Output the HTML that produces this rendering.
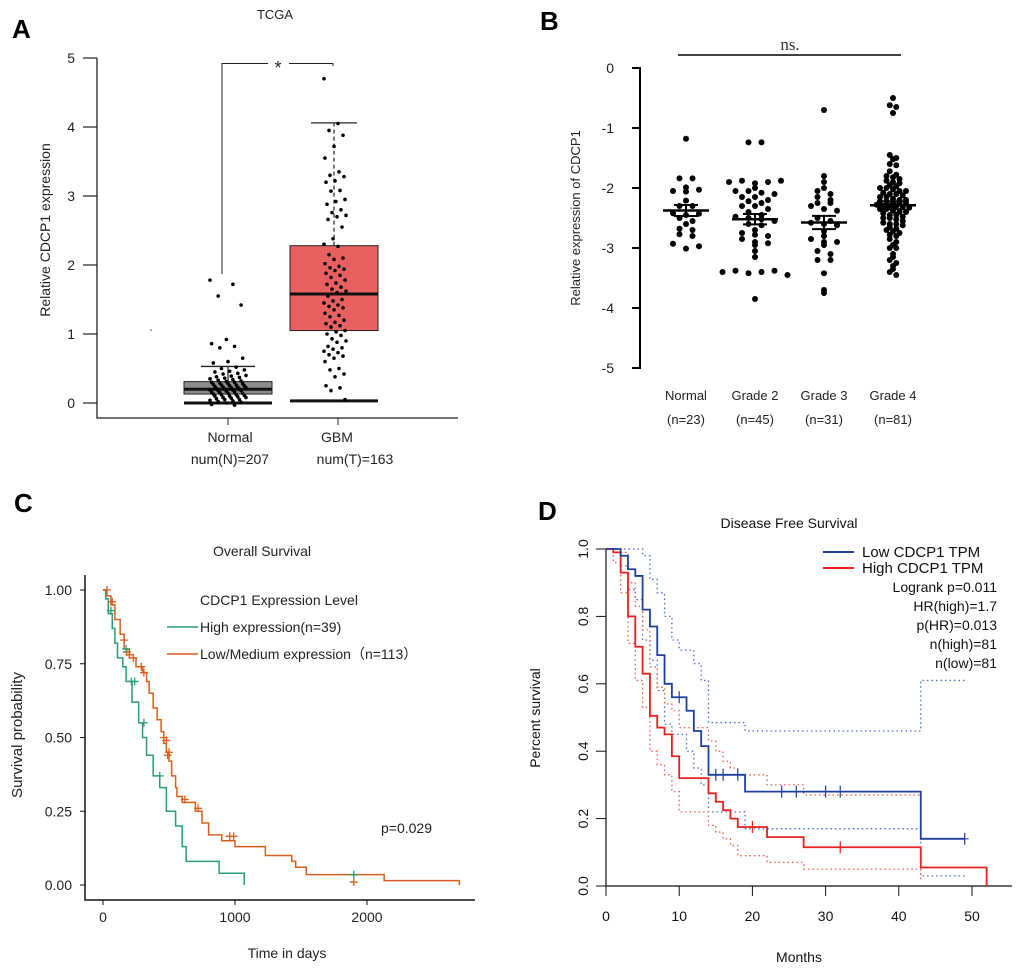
<!DOCTYPE html>
<html><head><meta charset="utf-8"><style>
html,body{margin:0;padding:0;background:#fff;}
svg{display:block;font-family:"Liberation Sans",Arial,sans-serif;}
</style></head><body>
<svg id="fig" width="1020" height="969" viewBox="0 0 1020 969" xmlns="http://www.w3.org/2000/svg">
<g id="pA">
<text x="12" y="38" font-size="26" font-weight="bold">A</text>
<text x="275" y="19" font-size="13" text-anchor="middle" fill="#222">TCGA</text>
<text transform="translate(50,230) rotate(-90)" font-size="14" text-anchor="middle" fill="#222">Relative CDCP1 expression</text>
<text x="230" y="442" font-size="14" text-anchor="middle" fill="#222">Normal</text>
<text x="230" y="464" font-size="14" text-anchor="middle" fill="#222">num(N)=207</text>
<text x="337" y="442" font-size="14" text-anchor="middle" fill="#222">GBM</text>
<text x="355" y="464" font-size="14" text-anchor="middle" fill="#222">num(T)=163</text>
<circle cx="151" cy="330" r="0.8" fill="#444"/>
</g>
<g id="pB">
<text x="540" y="30" font-size="26" font-weight="bold">B</text>
<text transform="translate(580,218) rotate(-90)" font-size="13" text-anchor="middle" fill="#222">Relative expression of CDCP1</text>
<text x="790" y="50" font-size="17" text-anchor="middle" font-family="Liberation Serif,serif" fill="#333">ns.</text>
</g>
<g id="pC">
<text x="14" y="512" font-size="26" font-weight="bold">C</text>
<text x="262" y="556" font-size="14" text-anchor="middle" fill="#222">Overall Survival</text>
<text transform="translate(22,735) rotate(-90)" font-size="15" text-anchor="middle" fill="#222">Survival probability</text>
<text x="287" y="958" font-size="14" text-anchor="middle" fill="#222">Time in days</text>
<text x="200" y="605" font-size="14" fill="#222">CDCP1 Expression Level</text>
<line x1="167" y1="627" x2="198" y2="627" stroke="#2a9d72" stroke-width="1.5"/>
<text x="200" y="632" font-size="14" fill="#222">High expression(n=39)</text>
<line x1="167" y1="654" x2="198" y2="654" stroke="#d95f1c" stroke-width="1.5"/>
<text x="200" y="659" font-size="14" fill="#222" font-family="Liberation Sans,'Noto Sans CJK SC',sans-serif">Low/Medium expression（n=113）</text>
<text x="381" y="833" font-size="14" fill="#222">p=0.029</text>
</g>
<g id="pD">
<text x="538" y="520" font-size="26" font-weight="bold">D</text>
<text x="789" y="528" font-size="14" text-anchor="middle" fill="#111">Disease Free Survival</text>
<text transform="translate(540,718) rotate(-90)" font-size="14" text-anchor="middle" fill="#111">Percent survival</text>
<text x="799" y="962" font-size="14" text-anchor="middle" fill="#111">Months</text>
<line x1="823" y1="552" x2="854" y2="552" stroke="#1f3f9f" stroke-width="2"/>
<text x="862" y="557" font-size="15" fill="#111">Low CDCP1 TPM</text>
<line x1="823" y1="568" x2="854" y2="568" stroke="#e8201e" stroke-width="2"/>
<text x="862" y="573" font-size="15" fill="#111">High CDCP1 TPM</text>
<text x="997" y="592" font-size="14" text-anchor="end" fill="#111">Logrank p=0.011</text>
<text x="997" y="611" font-size="14" text-anchor="end" fill="#111">HR(high)=1.7</text>
<text x="997" y="630" font-size="14" text-anchor="end" fill="#111">p(HR)=0.013</text>
<text x="997" y="649" font-size="14" text-anchor="end" fill="#111">n(high)=81</text>
<text x="997" y="668" font-size="14" text-anchor="end" fill="#111">n(low)=81</text>
</g>
</svg>
<script>
// ---------- Panel A data ----------
const aTicks=[0,1,2,3,4,5];
const aNormalBox=[0.0,0.13,0.2,0.31,0.53];
const aGbmBox=[0.03,1.05,1.58,2.28,4.06];
const aNormalPts=[1.78,1.72,1.55,1.42,0.92,0.86,0.82,0.8,0.65,0.6,0.58,0.52,0.5,0.48,0.46,0.45,0.43,0.42,0.4,0.39,0.38,0.37,0.36,0.35,0.34,0.33,0.32,0.31,0.3,0.3,0.29,0.28,0.28,0.27,0.26,0.26,0.25,0.25,0.24,0.23,0.23,0.22,0.22,0.21,0.2,0.2,0.19,0.19,0.18,0.18,0.17,0.16,0.16,0.15,0.14,0.14,0.13,0.12,0.12,0.11,0.1,0.1,0.09,0.08,0.08,0.07,0.06,0.05,0.05,0.04,0.03,0.02,0.01,0.0,-0.02,-0.03];
const aGbmPts=[4.7,4.05,3.95,3.88,3.72,3.55,3.35,3.3,3.28,3.22,3.2,3.08,3.07,2.95,2.92,2.88,2.8,2.76,2.72,2.7,2.66,2.55,2.38,2.3,2.27,2.15,2.1,2.08,2.02,1.98,1.96,1.94,1.92,1.88,1.85,1.82,1.78,1.74,1.72,1.68,1.65,1.62,1.6,1.55,1.5,1.48,1.45,1.42,1.4,1.38,1.35,1.3,1.27,1.25,1.2,1.17,1.15,1.12,1.1,1.05,1.03,1.0,0.98,0.93,0.9,0.88,0.82,0.8,0.78,0.75,0.73,0.7,0.68,0.65,0.6,0.5,0.48,0.42,0.38,0.25,0.22,0.18,0.05];
const aBracket=[1.87,4.92,4.88];
// ---------- Panel B data ----------
const bCats=["Normal","Grade 2","Grade 3","Grade 4"];
const bNs=["(n=23)","(n=45)","(n=31)","(n=81)"];
const bTicks=[0,-1,-2,-3,-4,-5];
const bNormal=[-1.18,-1.84,-1.84,-1.99,-2.05,-2.06,-2.03,-2.21,-2.3,-2.3,-2.42,-2.45,-2.43,-2.5,-2.55,-2.6,-2.68,-2.7,-2.77,-2.8,-2.93,-3.01,-2.97];
const bGrade2=[-1.24,-1.24,-1.9,-1.88,-1.92,-1.9,-1.88,-2.0,-2.05,-2.05,-2.08,-2.1,-2.15,-2.15,-2.2,-2.22,-2.25,-2.3,-2.3,-2.35,-2.4,-2.45,-2.48,-2.5,-2.52,-2.55,-2.6,-2.62,-2.7,-2.75,-2.78,-2.8,-2.85,-2.9,-2.92,-2.95,-3.05,-3.15,-3.4,-3.38,-3.42,-3.4,-3.38,-3.45,-3.85];
const bGrade3=[-0.7,-1.8,-1.9,-2.0,-2.05,-2.1,-2.15,-2.2,-2.25,-2.25,-2.3,-2.35,-2.38,-2.5,-2.55,-2.58,-2.6,-2.62,-2.72,-2.8,-2.85,-2.9,-2.9,-2.95,-3.05,-3.1,-3.2,-3.2,-3.42,-3.7,-3.75];
const bGrade4=[-0.5,-0.62,-0.65,-0.75,-1.45,-1.5,-1.52,-1.6,-1.62,-1.72,-1.78,-1.8,-1.82,-1.85,-1.88,-1.9,-1.92,-1.95,-1.97,-2.0,-2.0,-2.02,-2.05,-2.05,-2.08,-2.1,-2.1,-2.12,-2.15,-2.15,-2.18,-2.2,-2.2,-2.22,-2.22,-2.25,-2.25,-2.25,-2.28,-2.3,-2.3,-2.3,-2.32,-2.33,-2.35,-2.35,-2.38,-2.4,-2.4,-2.42,-2.45,-2.45,-2.48,-2.5,-2.5,-2.52,-2.55,-2.58,-2.6,-2.6,-2.62,-2.65,-2.68,-2.7,-2.72,-2.75,-2.78,-2.8,-2.85,-2.9,-2.95,-3.0,-3.0,-3.1,-3.15,-3.2,-3.25,-3.3,-3.35,-3.4,-3.45];
// ---------- Panel C data ----------
const cTicksY=[0,0.25,0.5,0.75,1.0];
const cTicksX=[0,1000,2000];
const cHighT=[0,20,40,70,90,110,150,175,220,270,300,330,380,430,480,550,600,630,880,1070];
const cHighS=[1,0.97,0.92,0.87,0.82,0.77,0.74,0.69,0.62,0.55,0.5,0.44,0.37,0.33,0.25,0.2,0.13,0.08,0.04,0.0];
const cHighCens=[[60,0.93],[175,0.8],[215,0.69],[240,0.69],[310,0.55],[430,0.37],[1900,0.035]];
const cLowT=[0,30,60,90,130,160,200,250,300,330,350,380,410,440,460,480,500,520,550,560,600,700,750,800,900,1000,1230,1430,1460,1540,2130,2700];
const cLowS=[1,0.98,0.95,0.9,0.85,0.8,0.77,0.74,0.72,0.69,0.65,0.6,0.56,0.52,0.48,0.45,0.42,0.37,0.33,0.3,0.28,0.25,0.21,0.17,0.15,0.13,0.1,0.08,0.06,0.035,0.015,0.0];
const cLowCens=[[30,1.0],[70,0.96],[160,0.83],[180,0.79],[200,0.78],[230,0.77],[290,0.74],[310,0.72],[460,0.5],[480,0.49],[490,0.44],[500,0.45],[620,0.29],[720,0.26],[960,0.165],[990,0.165],[1900,0.01]];
// ---------- Panel D data ----------
const dTicksY=[0,0.2,0.4,0.6,0.8,1.0];
const dTicksX=[0,10,20,30,40,50];
const dLowT=[0,2,3,4,5,6,7,8,9,11,12,13,14,19,43,49];
const dLowS=[1,0.98,0.94,0.92,0.82,0.77,0.685,0.6,0.56,0.52,0.46,0.415,0.33,0.28,0.14,0.14];
const dLowCens=[10,15,16,18,24,26,30,32,49];
const dHighT=[0,1,2,3,4,5,6,7,8,9,10,14,15,16,17,18,22,27,43,52,52];
const dHighS=[1,0.99,0.93,0.8,0.71,0.63,0.505,0.47,0.45,0.385,0.32,0.275,0.25,0.225,0.2,0.175,0.145,0.115,0.055,0.055,0.0];
const dHighCens=[20,32];
const dLowUpT=[0,2,5,6,7,8,9,10,12,13,14,19,43,49];
const dLowUpS=[1,1,0.98,0.91,0.87,0.8,0.73,0.7,0.66,0.61,0.485,0.46,0.61,0.61];
const dLowLoT=[0,2,3,4,5,6,7,8,9,11,12,13,14,19,43,49];
const dLowLoS=[1,0.95,0.88,0.85,0.73,0.67,0.58,0.48,0.45,0.4,0.35,0.3,0.22,0.17,0.03,0.03];
const dHighUpT=[0,2,3,4,5,6,7,8,9,10,14,15,16,17,18,22,27,43];
const dHighUpS=[1,0.99,0.9,0.83,0.76,0.65,0.59,0.54,0.52,0.47,0.43,0.4,0.37,0.35,0.33,0.3,0.27,0.27];
const dHighLoT=[0,1,2,3,4,5,6,7,8,9,10,14,15,16,17,18,22,27,43];
const dHighLoS=[1,0.96,0.87,0.72,0.61,0.53,0.4,0.36,0.33,0.28,0.22,0.18,0.16,0.14,0.12,0.09,0.07,0.05,0.02];

const NS='http://www.w3.org/2000/svg';
function mk(parent,tag,attrs){const e=document.createElementNS(NS,tag);for(const k in attrs)e.setAttribute(k,attrs[k]);parent.appendChild(e);return e;}
function txt(parent,x,y,s,size,anchor,extra){const e=mk(parent,'text',Object.assign({x:x,y:y,'font-size':size,'text-anchor':anchor,fill:'#222'},extra||{}));e.textContent=s;return e;}
function stepPath(T,S,xs,ys){let d='M'+xs(T[0])+','+ys(S[0]);for(let i=1;i<T.length;i++){d+=' H'+xs(T[i])+' V'+ys(S[i]);}return d;}

// ---------- Panel A ----------
(function(){
const g=document.getElementById('pA');
const y=v=>403-v*69;
let e=mk(g,'path',{d:'M97,58 V418 H458',fill:'none',stroke:'#222','stroke-width':1.3});

aTicks.forEach(t=>{
 e=mk(g,'line',{x1:83,x2:97,y1:y(t),y2:y(t),stroke:'#222','stroke-width':1.2});
 
 e=txt(g,75,y(t)+5,String(t),14,'end');
 
});
[228,338].forEach(x=>{e=mk(g,'line',{x1:x,x2:x,y1:418,y2:425,stroke:'#222'});});
function box(b,cx,hw,capw,fill,name,dashed){
 e=mk(g,'line',{x1:cx,x2:cx,y1:y(b[3]),y2:y(b[4]),stroke:'#222','stroke-width':1.2,'stroke-dasharray':dashed?'4,3':'none'});
 
 e=mk(g,'line',{x1:cx-capw,x2:cx+capw,y1:y(b[4]),y2:y(b[4]),stroke:'#222','stroke-width':1.3});
 
 e=mk(g,'rect',{x:cx-hw,y:y(b[3]),width:hw*2,height:y(b[1])-y(b[3]),fill:fill,stroke:'#222','stroke-width':1});
 
 e=mk(g,'line',{x1:cx-hw,x2:cx+hw,y1:y(b[2]),y2:y(b[2]),stroke:'#111','stroke-width':3});
 
 e=mk(g,'line',{x1:cx-hw,x2:cx+hw,y1:y(b[0]),y2:y(b[0]),stroke:'#111','stroke-width':3});
 
}
box(aNormalBox,228,44,27,'#8c8c8c','normal',false);
box(aGbmBox,334,44,23,'#e8605f','gbm',true);
function pts(arr,cx,spread,name){arr.forEach((v,i)=>{const off=((i*37)%23-11)/11*spread;
 e=mk(g,'circle',{cx:cx+off,cy:y(v),r:1.8,fill:'#000'});
 });}
pts(aNormalPts,228,18,'normal');pts(aGbmPts,335,11,'gbm');
e=mk(g,'path',{d:'M222,'+y(aBracket[0])+' V'+y(aBracket[1])+' H268 M289,'+y(aBracket[1])+' H333 V'+y(aBracket[2]),fill:'none',stroke:'#222','stroke-width':1});

e=txt(g,278,74,'*',18,'middle');

})();

// ---------- Panel B ----------
(function(){
const g=document.getElementById('pB');
const y=v=>68-v*60;
const cx=[686,755,824,893];
let e=mk(g,'line',{x1:640,x2:640,y1:y(0)-1,y2:y(-5)+1,stroke:'#000','stroke-width':2});

bTicks.forEach(t=>{
 e=mk(g,'line',{x1:632,x2:640,y1:y(t),y2:y(t),stroke:'#000','stroke-width':2});
 
 e=txt(g,614,y(t)+5,String(t),14,'end');
 
});
e=mk(g,'line',{x1:cx[0]-8,x2:cx[3]+8,y1:55,y2:55,stroke:'#000','stroke-width':1.5});

[bNormal,bGrade2,bGrade3,bGrade4].forEach((arr,k)=>{
 e=txt(g,cx[k],400,bCats[k],13,'middle');
 e=txt(g,cx[k],424,bNs[k],13,'middle');
 const bins={};const bw=k==3?0.07:0.09;
 arr.forEach(v=>{const b=Math.round(v/bw);(bins[b]=bins[b]||[]).push(v);});
 Object.keys(bins).forEach(b=>{const L=bins[b];const n=L.length;
  L.forEach((v,i)=>{const off=(i-(n-1)/2)*(k==3?6.5:13);
   e=mk(g,'circle',{cx:cx[k]+off,cy:y(v),r:3,fill:'#000'});
   });});
 const m=arr.reduce((a,b)=>a+b,0)/arr.length;
 const sd=Math.sqrt(arr.reduce((a,b)=>a+(b-m)*(b-m),0)/(arr.length-1));const se=sd/Math.sqrt(arr.length);
 e=mk(g,'line',{x1:cx[k]-23,x2:cx[k]+23,y1:y(m),y2:y(m),stroke:'#000','stroke-width':2.5});
 
 e=mk(g,'path',{d:'M'+(cx[k]-12)+','+y(m+se)+' H'+(cx[k]+12)+' M'+(cx[k]-12)+','+y(m-se)+' H'+(cx[k]+12)+' M'+cx[k]+','+y(m+se)+' V'+y(m-se),fill:'none',stroke:'#000','stroke-width':2});
 
});
})();

// ---------- Panel C ----------
(function(){
const g=document.getElementById('pC');
const x=t=>103+t*0.132, y=s=>885-s*295;
let e=mk(g,'path',{d:'M85,575 V900 H475',fill:'none',stroke:'#111','stroke-width':1.5});

cTicksY.forEach(t=>{
 e=mk(g,'line',{x1:80,x2:85,y1:y(t),y2:y(t),stroke:'#111'});
 e=txt(g,72,y(t)+5,t.toFixed(2),14,'end');
});
cTicksX.forEach(t=>{
 e=mk(g,'line',{x1:x(t),x2:x(t),y1:900,y2:905,stroke:'#111'});
 e=txt(g,x(t),922,String(t),14,'middle');
});
e=mk(g,'path',{d:stepPath(cLowT,cLowS,x,y),fill:'none',stroke:'#d95f1c','stroke-width':1.5});

e=mk(g,'path',{d:stepPath(cHighT,cHighS,x,y),fill:'none',stroke:'#2a9d72','stroke-width':1.5});

function cens(L,col,name){L.forEach(p=>{const cx=x(p[0]),cy=y(p[1]);
 e=mk(g,'path',{d:'M'+(cx-4)+','+cy+' H'+(cx+4)+' M'+cx+','+(cy-4)+' V'+(cy+4),stroke:col,'stroke-width':1.3});
 });}
cens(cLowCens,'#d95f1c','censor-low');cens(cHighCens,'#2a9d72','censor-high');
})();

// ---------- Panel D ----------
(function(){
const g=document.getElementById('pD');
const x=t=>606+t*7.32, y=s=>886-s*337;
let e=mk(g,'path',{d:'M606,549 V886 H1012',fill:'none',stroke:'#111','stroke-width':1.2});

dTicksY.forEach(t=>{
 e=mk(g,'line',{x1:596,x2:606,y1:y(t),y2:y(t),stroke:'#111'});
 e=txt(g,0,0,t.toFixed(1),14,'middle',{transform:'translate(588,'+y(t)+') rotate(-90)',fill:'#111'});
});
dTicksX.forEach(t=>{
 e=mk(g,'line',{x1:x(t),x2:x(t),y1:886,y2:896,stroke:'#111'});
 e=txt(g,x(t),921,String(t),14,'middle',{fill:'#111'});
});
function ci(T,S,col,name){e=mk(g,'path',{d:stepPath(T,S,x,y),fill:'none',stroke:col,'stroke-width':1.3,'stroke-dasharray':'1.5,3'});
 }
ci(dLowUpT,dLowUpS,'#4a6fd0','ci-low-upper');ci(dLowLoT,dLowLoS,'#4a6fd0','ci-low-lower');
ci(dHighUpT,dHighUpS,'#f05a4a','ci-high-upper');ci(dHighLoT,dHighLoS,'#f05a4a','ci-high-lower');
e=mk(g,'path',{d:stepPath(dHighT,dHighS,x,y),fill:'none',stroke:'#e8201e','stroke-width':1.8});

e=mk(g,'path',{d:stepPath(dLowT,dLowS,x,y),fill:'none',stroke:'#1f3f9f','stroke-width':1.8});

function sAt(T,S,t){let s=S[0];for(let i=0;i<T.length;i++){if(T[i]<=t)s=S[i];}return s;}
function cens(L,T,S,col,name){L.forEach(t=>{const cx=x(t),cy=y(sAt(T,S,t));
 e=mk(g,'path',{d:'M'+(cx-4)+','+cy+' H'+(cx+4)+' M'+cx+','+(cy-6)+' V'+(cy+6),stroke:col,'stroke-width':1.2});
 });}
cens(dLowCens,dLowT,dLowS,'#1f3f9f','censor-low-tpm');cens(dHighCens,dHighT,dHighS,'#e8201e','censor-high-tpm');
})();
</script>
</body></html>
